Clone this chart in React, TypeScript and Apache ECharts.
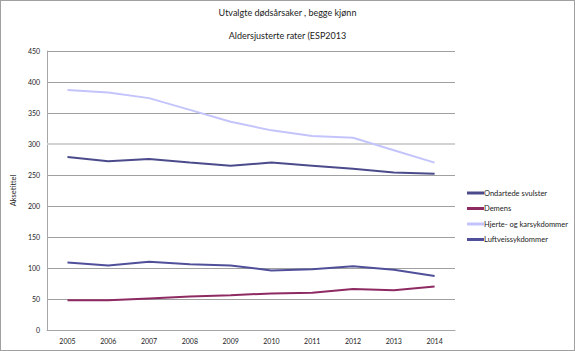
import React, { useEffect, useRef } from "react";
import * as echarts from "echarts";

const years = ["2005", "2006", "2007", "2008", "2009", "2010", "2011", "2012", "2013", "2014"];
const ondartede = [279, 272, 276, 270, 265, 270, 265, 260, 254, 252];
const demens = [48, 48, 51, 54, 56, 59, 60, 66, 64, 70];
const hjerte = [387, 383, 374, 355, 336, 322, 313, 310, 290, 270];
const luftveis = [109, 104, 110, 106, 104, 96, 98, 103, 97, 87];
const seriesNames = ["Ondartede svulster", "Demens", "Hjerte- og karsykdommer", "Luftveissykdommer"];
const colors = ["#4b4b8c", "#8e2a62", "#c4c4fc", "#50509a"];

const FONT = "Lato, 'Open Sans', sans-serif";

export default function App() {
  const ref = useRef<HTMLDivElement>(null);
  useEffect(() => {
    document.body.style.margin = "0";
    const chart = echarts.init(ref.current!, null, { renderer: "svg" });
    const data = [ondartede, demens, hjerte, luftveis];
    chart.setOption({
      animation: false,
      backgroundColor: "#ffffff",
      title: [
        { text: "Utvalgte dødsårsaker , begge kjønn", left: "center", top: 2, textStyle: { fontSize: 9, fontWeight: "normal", color: "#222", fontFamily: FONT } },
        { text: "Aldersjusterte rater (ESP2013", left: "center", top: 25, textStyle: { fontSize: 9, fontWeight: "normal", color: "#222", fontFamily: FONT } },
      ],
      legend: {
        orient: "vertical",
        left: 461,
        top: 182,
        itemWidth: 17,
        itemHeight: 3,
        itemGap: 5.5,
        icon: "rect",
        data: seriesNames,
        textStyle: { fontSize: 7.5, color: "#222", fontFamily: FONT, lineHeight: 10, padding: [0, 0, 0, -5] },
      },
      grid: { left: 40, right: 119, top: 50, bottom: 20 },
      xAxis: {
        type: "category",
        data: years,
        boundaryGap: true,
        axisLine: { lineStyle: { color: "#a6a6a6" } },
        axisTick: { show: false },
        axisLabel: { fontSize: 7, color: "#222", margin: 7, fontFamily: FONT },
      },
      yAxis: {
        type: "value",
        min: 0,
        max: 450,
        interval: 50,
        name: "Aksetittel",
        nameLocation: "middle",
        nameGap: 24,
        nameTextStyle: { fontSize: 7.5, color: "#222", fontFamily: FONT },
        axisLine: { show: true, lineStyle: { color: "#a6a6a6" } },
        axisTick: { show: false },
        splitLine: { lineStyle: { color: "#a0a0a0" } },
        axisLabel: { fontSize: 7, color: "#222", margin: 7, fontFamily: FONT },
      },
      series: seriesNames.map((name, i) => ({
        name,
        type: "line",
        data: data[i],
        symbol: "none",
        color: colors[i],
        lineStyle: { width: 2, color: colors[i] },
        z: i === 0 ? 3 : 2,
        ...(i === 0
          ? {
              markLine: {
                silent: true,
                symbol: "none",
                label: { show: false },
                lineStyle: { color: "#d2d2d2", width: 2, type: "solid" },
                data: [{ yAxis: 300 }],
                z: 1,
              },
            }
          : {}),
      })),
    });
    return () => chart.dispose();
  }, []);
  return (
    <div
      ref={ref}
      style={{ width: 575, height: 351, border: "1px solid #a0a0a0", boxSizing: "border-box" }}
    />
  );
}
